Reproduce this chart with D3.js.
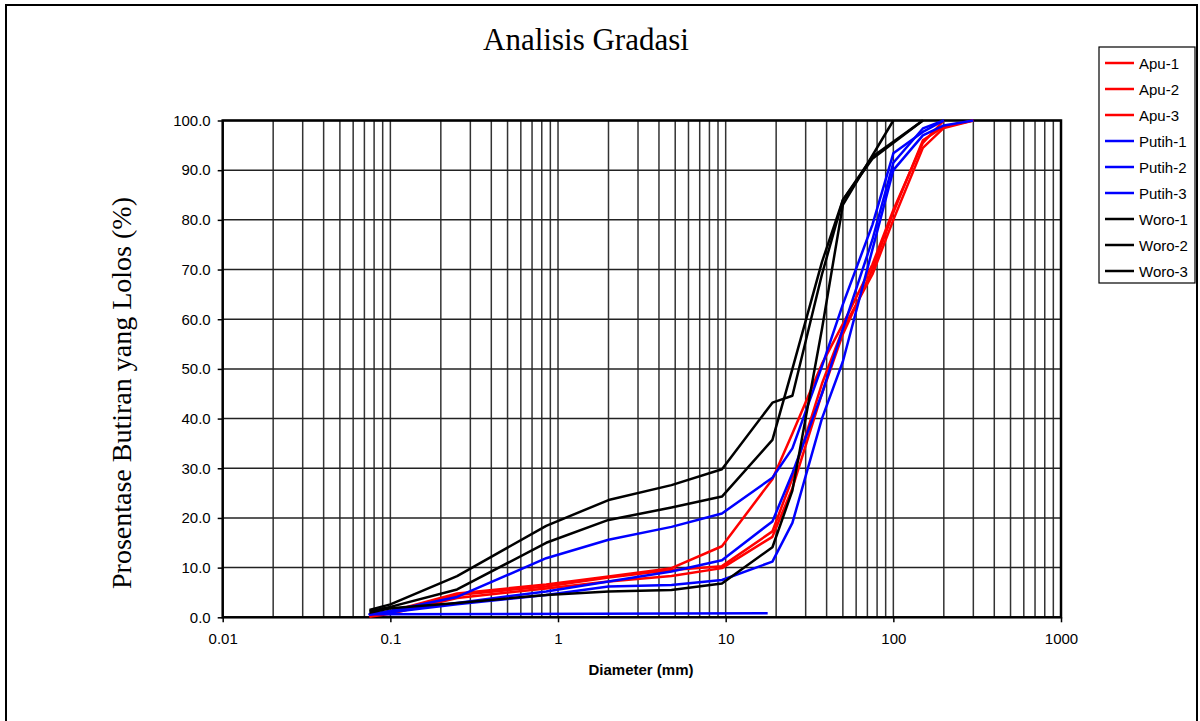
<!DOCTYPE html>
<html>
<head>
   <meta charset="utf-8">
   <title>Analisis Gradasi</title>
   <script src="https://d3js.org/d3.v7.min.js"></script>
   <style>
   body { margin: 0; background: white; }
   svg { display: block; }
   .axis text { font-family: "Liberation Sans", Arial, sans-serif; font-size: 15px; fill: black; }
   .axis path, .axis line { stroke: black; }
   </style>
</head>
<body>
  <div id="chart"></div>
  <script>

   // sieve sizes (mm) shared by all series, null = no reading
   var sieves = [0.075, 0.1, 0.25, 0.85, 2, 4.75, 9.5, 19, 25, 37.5, 50, 75, 100, 150, 200, 300];

   var apu1   = [0.3, 1.2, 4.8, 6.6, 8.2, 9.9, 14.3, 27.8, 37, 51, 59, 71, 82, 95.5, 100, null];
   var apu2   = [0.2, 0.9, 4.5, 6.2, 8.0, 9.5, 10.3, 17.3, 28, 47, 58, 69, 80, 94.5, 98.5, 100];
   var apu3   = [0.1, 0.7, 3.9, 5.8, 7.2, 8.3, 9.9, 16.2, 26, 45, 57, 70, 81.5, 96, 98.8, 100];
   var putih1 = [0.5, 1.3, 4.1, 11.9, 15.6, 18.2, 20.9, 28.1, 34, 50.5, 63, 79, 93.4, 97.7, 100, null];
   var putih2 = [0.6, 1.1, 2.9, 5.2, 7.2, 9.2, 11.5, 19.3, 29, 45, 58, 76, 91.5, 98.4, 100, null];
   var putih3 = [0.6, 1.0, 2.6, 4.5, 6.2, 6.5, 7.5, 11.2, 19, 40, 51.5, 74, 90, 97, 99, 100];
   var woro1  = [1.5, 2.6, 8.3, 18.4, 23.6, 26.6, 29.8, 43.2, 44.6, 69, 84, 92.3, null, 100, null, null];
   var woro2  = [1.2, 2.1, 5.6, 15.0, 19.6, 22.1, 24.3, 35.7, 50, 71.5, 84, 92.7, null, 100, null, null];
   var woro3  = [0.9, 1.8, 2.9, 4.5, 5.2, 5.5, 6.8, 14.1, 25.5, 58, 83, null, 100, null, null, null];

   // Putih-3 has an extra "pan" row that the line runs back to
   var putih3Pan = [17.8, 0.8];

   var seriesNames  = ["Apu-1", "Apu-2", "Apu-3", "Putih-1", "Putih-2", "Putih-3", "Woro-1", "Woro-2", "Woro-3"];
   var seriesValues = [apu1, apu2, apu3, putih1, putih2, putih3, woro1, woro2, woro3];
   var seriesColors = ["#ff0000", "#ff0000", "#ff0000", "#0000ff", "#0000ff", "#0000ff", "#000000", "#000000", "#000000"];

   var xTickLabels = ["0.01", "0.1", "1", "10", "100", "1000"];

   var width = 1200, height = 721;
   var plotLeft = 222.7, plotRight = 1061, plotTop = 120.5, plotBottom = 617.3;

   var svg = d3.select("#chart").append("svg")
      .attr("width", width)
      .attr("height", height);

   // outer frame of the chart
   svg.append("rect")
      .attr("x", 6).attr("y", 5)
      .attr("width", 1191).attr("height", 740)
      .attr("fill", "white")
      .attr("stroke", "black")
      .attr("stroke-width", 2);

   var x = d3.scaleLog().domain([0.01, 1000]).range([plotLeft, plotRight]);
   var y = d3.scaleLinear().domain([0, 100]).range([plotBottom, plotTop]);

   // grid lines
   svg.append("g").selectAll("line")
      .data(x.ticks())
      .enter().append("line")
      .attr("x1", function(d){ return x(d) }).attr("x2", function(d){ return x(d) })
      .attr("y1", plotTop).attr("y2", plotBottom)
      .attr("stroke", "#333")
      .attr("stroke-width", 1.5);

   svg.append("g").selectAll("line")
      .data(d3.range(0, 101, 10))
      .enter().append("line")
      .attr("x1", plotLeft).attr("x2", plotRight)
      .attr("y1", function(d){ return y(d) }).attr("y2", function(d){ return y(d) })
      .attr("stroke", "#222")
      .attr("stroke-width", 1.5);

   // axes
   svg.append("g")
      .attr("class", "axis")
      .attr("transform", "translate(0," + plotBottom + ")")
      .call(d3.axisBottom(x)
         .tickValues(xTickLabels.map(Number))
         .tickFormat(function(d, i){ return xTickLabels[i] })
         .tickSize(5).tickSizeOuter(0).tickPadding(11));

   svg.append("g")
      .attr("class", "axis")
      .attr("transform", "translate(" + plotLeft + ",0)")
      .call(d3.axisLeft(y)
         .tickValues(d3.range(0, 101, 10))
         .tickFormat(d3.format(".1f"))
         .tickSize(5).tickSizeOuter(0).tickPadding(7));

   svg.selectAll(".axis .domain").remove();
   svg.selectAll(".axis line").attr("stroke-width", 1.5);

   // plot border
   svg.append("rect")
      .attr("x", plotLeft).attr("y", plotTop)
      .attr("width", plotRight - plotLeft).attr("height", plotBottom - plotTop)
      .attr("fill", "none")
      .attr("stroke", "black")
      .attr("stroke-width", 2.5);

   // series lines
   var line = d3.line()
      .x(function(d){ return x(d[0]) })
      .y(function(d){ return y(d[1]) });

   seriesValues.forEach(function(vals, k){
      var pts = [];
      if (seriesNames[k] == "Putih-3") pts.push(putih3Pan);
      sieves.forEach(function(s, i){
         if (vals[i] != null) pts.push([s, vals[i]]);
      });
      svg.append("path")
         .datum(pts)
         .attr("d", line)
         .attr("fill", "none")
         .attr("stroke", seriesColors[k])
         .attr("stroke-width", 2.5)
         .attr("stroke-linejoin", "round");
   });

   // titles
   svg.append("text")
      .attr("x", 586).attr("y", 50)
      .attr("text-anchor", "middle")
      .style("font-family", "'Liberation Serif', 'Times New Roman', serif")
      .style("font-size", "31px")
      .text("Analisis Gradasi");

   svg.append("text")
      .attr("transform", "translate(131," + 393 + ") rotate(-90)")
      .attr("text-anchor", "middle")
      .style("font-family", "'Liberation Serif', 'Times New Roman', serif")
      .style("font-size", "28px")
      .text("Prosentase Butiran yang Lolos (%)");

   svg.append("text")
      .attr("x", 641).attr("y", 675)
      .attr("text-anchor", "middle")
      .style("font-family", "'Liberation Sans', Arial, sans-serif")
      .style("font-size", "15px")
      .style("font-weight", "bold")
      .text("Diameter (mm)");

   // legend
   var legend = svg.append("g");
   legend.append("rect")
      .attr("x", 1099).attr("y", 47)
      .attr("width", 96).attr("height", 236)
      .attr("fill", "white")
      .attr("stroke", "black")
      .attr("stroke-width", 1.2);

   seriesNames.forEach(function(name, i){
      var ly = 63 + i * 26;
      legend.append("line")
         .attr("x1", 1105).attr("x2", 1134)
         .attr("y1", ly).attr("y2", ly)
         .attr("stroke", seriesColors[i])
         .attr("stroke-width", 2.5);
      legend.append("text")
         .attr("x", 1139).attr("y", ly + 5.5)
         .style("font-family", "'Liberation Sans', Arial, sans-serif")
         .style("font-size", "15px")
         .text(name);
   });
  </script>
</body>
</html>
